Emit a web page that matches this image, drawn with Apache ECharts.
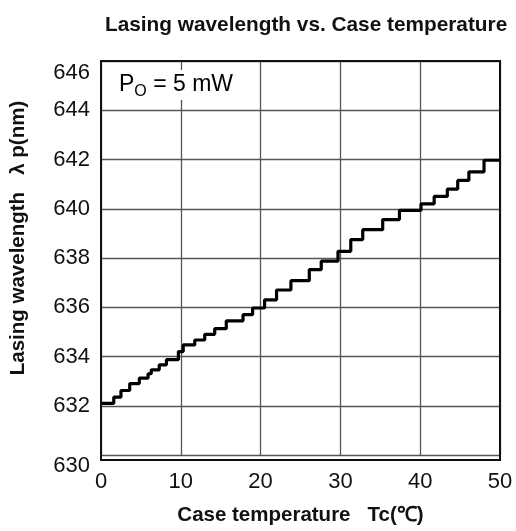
<!DOCTYPE html>
<html>
<head>
<meta charset="utf-8">
<script src="https://cdn.jsdelivr.net/npm/echarts@6/dist/echarts.min.js"></script>
<style>
html,body{margin:0;padding:0;background:#fff;}
#chart{width:516px;height:531px;}
</style>
</head>
<body>
<div id="chart"></div>
<script>
// Case temperature (°C) where each step level begins
var stepTemps = [0, 1.6, 2.5, 3.6, 4.8, 5.9, 6.3, 7.3, 8.2, 9.7, 10.3, 11.75, 13.0, 14.25, 15.7, 17.8, 19.0, 20.5, 22.0, 23.8, 26.1, 27.6, 29.7, 31.3, 32.8, 35.3, 37.4, 40.1, 41.75, 43.4, 44.7, 46.1, 48.0, 50];
// Lasing wavelength (nm) at each step
var stepWavelengths = [632.1, 632.35, 632.62, 632.9, 633.12, 633.3, 633.46, 633.66, 633.87, 634.2, 634.47, 634.67, 634.9, 635.13, 635.45, 635.7, 635.97, 636.3, 636.7, 637.08, 637.53, 637.87, 638.27, 638.75, 639.15, 639.56, 639.93, 640.2, 640.5, 640.8, 641.15, 641.5, 641.97, 641.97];
var xTicks = [0, 10, 20, 30, 40, 50];
var yTicks = [630, 632, 634, 636, 638, 640, 642, 644, 646];

var seriesData = stepTemps.map(function (t, i) { return [t, stepWavelengths[i]]; });

var chart = echarts.init(document.getElementById('chart'));
var FONT = 'Liberation Sans, Arial, sans-serif';
var tickStyle = { fontFamily: FONT, fontSize: 22, color: '#111' };
chart.setOption({
  backgroundColor: '#fff',
  animation: false,
  title: {
    text: 'Lasing wavelength vs. Case temperature',
    left: 100, top: 10,
    textStyle: { fontFamily: FONT, fontWeight: 'bold', fontSize: 20.8, color: '#111' }
  },
  grid: { left: 101, right: 16, top: 61, bottom: 71 },
  xAxis: {
    type: 'value', min: xTicks[0], max: xTicks[xTicks.length - 1], interval: 10,
    name: 'Case temperature   Tc(\u2103)',
    nameLocation: 'middle', nameGap: 50,
    nameTextStyle: { fontFamily: FONT, fontWeight: 'bold', fontSize: 20.5, color: '#111' },
    axisLine: { show: false },
    axisTick: { show: false },
    axisLabel: { fontFamily: FONT, fontSize: 22, color: '#111', margin: 16 },
    splitLine: { show: true, lineStyle: { color: '#555', width: 1.3 } }
  },
  yAxis: {
    type: 'value', min: yTicks[0], max: yTicks[yTicks.length - 1], interval: 2,
    name: 'Lasing wavelength   \u03bb p(nm)',
    nameLocation: 'middle', nameGap: 72,
    nameTextStyle: { fontFamily: FONT, fontWeight: 'bold', fontSize: 20.5, color: '#111', padding: [0, 0, 0, 40] },
    axisLine: { show: false },
    axisTick: { show: false },
    axisLabel: {
      fontFamily: FONT, fontSize: 22, color: '#111', margin: 11,
      formatter: function (v) {
        if (v === yTicks[yTicks.length - 1]) return '{top|' + v + '}';
        if (v === yTicks[0]) return '{bot|' + v + '}';
        return String(v);
      },
      rich: {
        top: Object.assign({ padding: [24, 0, 0, 0] }, tickStyle),
        bot: Object.assign({ padding: [22, 0, 0, 0] }, tickStyle)
      }
    },
    splitLine: { show: true, lineStyle: { color: '#555', width: 1.3 } }
  },
  graphic: [
    {
      type: 'rect', z: 10, silent: true,
      shape: { x: 101, y: 61, width: 399, height: 399 },
      style: { fill: 'none', stroke: '#111', lineWidth: 2 }
    },
    {
      type: 'text', z: 20, left: 117, top: 70,
      style: {
        text: '{p|P}{s|O}{n| = 5 mW}',
        rich: {
          p: { fontFamily: FONT, fontSize: 23, color: '#111', verticalAlign: 'middle', lineHeight: 30 },
          s: { fontFamily: FONT, fontSize: 16, color: '#111', verticalAlign: 'bottom', lineHeight: 30 },
          n: { fontFamily: FONT, fontSize: 23, color: '#111', verticalAlign: 'middle', lineHeight: 30 }
        },
        backgroundColor: '#fff', padding: [0, 2, 0, 2]
      }
    }
  ],
  series: [{
    type: 'line', step: 'end', data: seriesData,
    symbol: 'none', z: 5,
    lineStyle: { color: '#000', width: 3.2 }
  }]
});
</script>
</body>
</html>
